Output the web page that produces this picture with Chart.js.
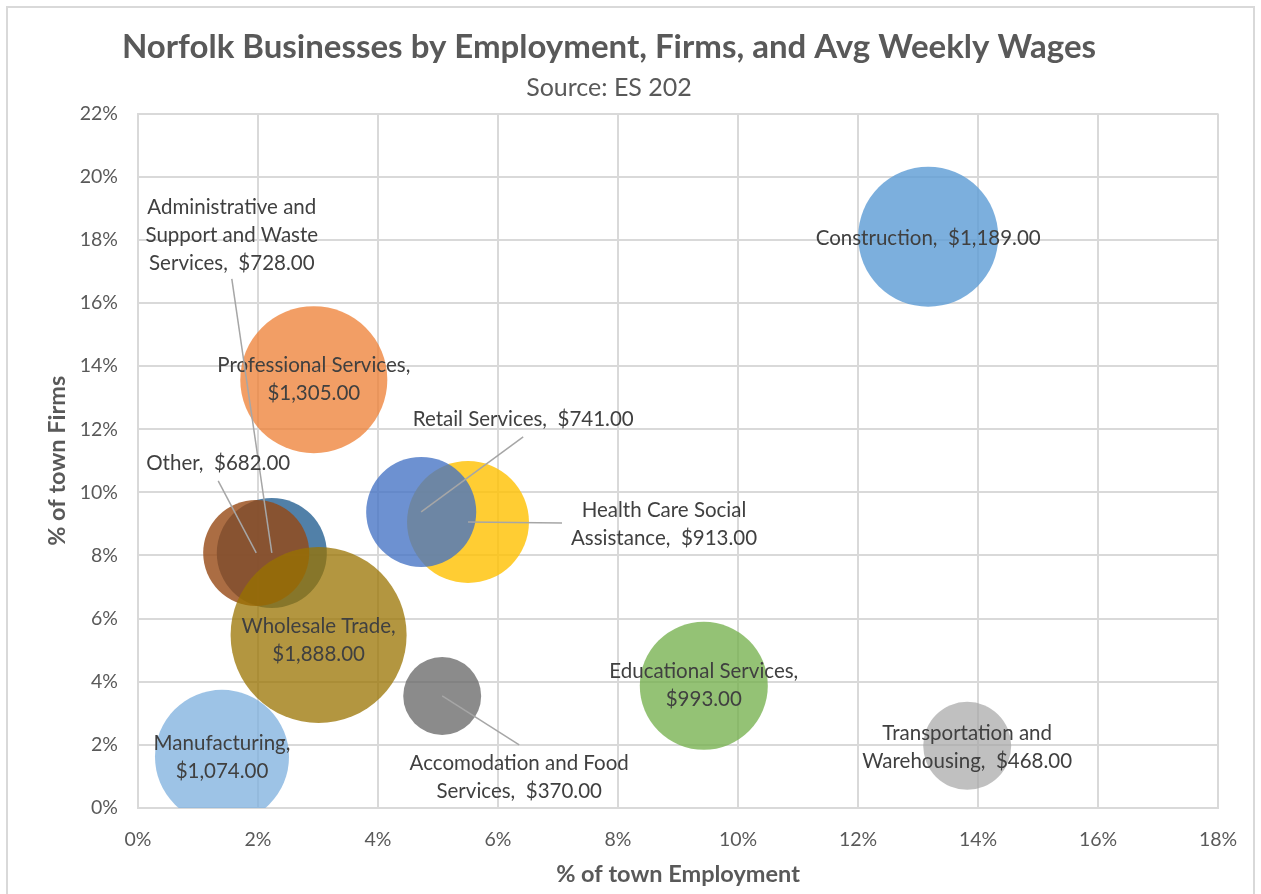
<!DOCTYPE html>
<html>
<head>
<meta charset="utf-8">
<script src="https://cdn.jsdelivr.net/npm/chart.js@4.4.0/dist/chart.umd.min.js"></script>
<style>
    html, body { margin: 0; padding: 0; background: #fff; }
    #chart { display: block; }
</style>
</head>
<body>
<canvas id="chart" width="1261" height="894"></canvas>
<script>
// Dados (% do emprego, % das empresas, salário semanal médio)
const categories = [
    'Construction',
    'Professional Services',
    'Health Care Social Assistance',
    'Retail Services',
    'Educational Services',
    'Transportation and Warehousing',
    'Manufacturing',
    'Administrative and Support and Waste Services',
    'Other',
    'Wholesale Trade',
    'Accomodation and Food Services'
];
const employmentPct = [13.17, 2.93, 5.50, 4.72, 9.43, 13.82, 1.40, 2.23, 1.97, 3.01, 5.07];
const firmsPct      = [18.10, 13.57, 9.06, 9.38, 3.87, 1.97, 1.62, 8.08, 8.08, 5.48, 3.55];
const weeklyWage    = [1189, 1305, 913, 741, 993, 468, 1074, 728, 682, 1888, 370];
const bubbleSize    = [6.33, 6.98, 4.80, 3.91, 5.29, 2.50, 5.80, 3.91, 3.63, 10.0, 1.96];

const xTicks = [0, 2, 4, 6, 8, 10, 12, 14, 16, 18];
const yTicks = [0, 2, 4, 6, 8, 10, 12, 14, 16, 18, 20, 22];

// Estilos
const colors = [
    'rgba(91,155,213,0.8)',
    'rgba(237,125,49,0.75)',
    'rgba(255,192,0,0.8)',
    'rgba(68,114,196,0.78)',
    'rgba(112,173,71,0.75)',
    'rgba(165,165,165,0.7)',
    'rgba(124,175,222,0.75)',
    'rgba(38,96,146,0.8)',
    'rgba(150,72,20,0.8)',
    'rgba(153,115,0,0.75)',
    'rgba(100,100,100,0.75)'
];
const maxBubbleRadius = 88;
const FONT = 'Lato, "Open Sans", sans-serif';
const textGray = '#595959';
const gridGray = '#D9D9D9';

// Posição dos rótulos (deslocamento em px em relação ao centro da bolha)
// lines = número de palavras por linha; leader = início da linha guia relativo ao rótulo
const labelLayout = [
    { dx: 0, dy: 2, lines: [2] },
    { dx: 0, dy: 0, lines: [2, 1] },
    { dx: 196, dy: 2, lines: [3, 2], leader: [-102, -1] },
    { dx: 102, dy: -93, lines: [3], leader: [0, 18] },
    { dx: 0, dy: 0, lines: [2, 1] },
    { dx: 0, dy: 2, lines: [2, 2] },
    { dx: 0, dy: 1, lines: [1, 1] },
    { dx: -40, dy: -318, lines: [2, 3, 2], leader: [0, 44] },
    { dx: -38, dy: -90, lines: [2], leader: [0, 18] },
    { dx: 0, dy: 5, lines: [2, 1] },
    { dx: 77, dy: 81, lines: [3, 2], leader: [0, -32] }
];

const moneyFmt = new Intl.NumberFormat('en-US', { minimumFractionDigits: 2, maximumFractionDigits: 2 });

function labelLines(i) {
    const words = (categories[i] + ',').split(' ');
    words.push('$' + moneyFmt.format(weeklyWage[i]));
    const out = [];
    let k = 0;
    labelLayout[i].lines.forEach(n => {
        let line = '';
        for (let j = 0; j < n; j++, k++) {
            if (j > 0) line += (k === words.length - 1) ? '  ' : ' ';
            line += words[k];
        }
        out.push(line);
    });
    return out;
}

const maxSize = Math.max(...bubbleSize);
const points = categories.map((c, i) => ({
    x: employmentPct[i],
    y: firmsPct[i],
    r: maxBubbleRadius * Math.sqrt(bubbleSize[i] / maxSize)
}));

// Moldura externa do gráfico
const frame = {
    id: 'frame',
    beforeDraw(chart) {
        const ctx = chart.ctx;
        ctx.save();
        ctx.strokeStyle = gridGray;
        ctx.lineWidth = 2;
        ctx.strokeRect(7, 7, 1247, 1000);
        ctx.restore();
    }
};

// Rótulos de dados com linhas guia
const dataLabels = {
    id: 'dataLabels',
    afterDatasetsDraw(chart) {
        const ctx = chart.ctx;
        const meta = chart.getDatasetMeta(0);
        ctx.save();
        ctx.font = '20.5px ' + FONT;
        ctx.fillStyle = '#404040';
        ctx.textAlign = 'center';
        ctx.textBaseline = 'middle';
        const lh = 28;
        meta.data.forEach((pt, i) => {
            const lay = labelLayout[i];
            const cx = pt.x + lay.dx;
            const cy = pt.y + lay.dy;
            if (lay.leader) {
                ctx.beginPath();
                ctx.strokeStyle = '#A6A6A6';
                ctx.lineWidth = 1.5;
                ctx.moveTo(cx + lay.leader[0], cy + lay.leader[1]);
                ctx.lineTo(pt.x, pt.y);
                ctx.stroke();
            }
            const lines = labelLines(i);
            lines.forEach((t, j) => {
                ctx.fillText(t, cx, cy + (j - (lines.length - 1) / 2) * lh);
            });
        });
        ctx.restore();
    }
};

new Chart(document.getElementById('chart'), {
    type: 'bubble',
    data: {
        datasets: [{
            data: points,
            backgroundColor: colors,
            borderWidth: 0,
            hoverBorderWidth: 0,
            clip: 0
        }]
    },
    options: {
        responsive: false,
        animation: false,
        devicePixelRatio: 1,
        layout: { autoPadding: false, padding: { left: 0, right: 43, top: 0, bottom: 0 } },
        plugins: {
            legend: { display: false },
            tooltip: { enabled: false },
            title: {
                display: true,
                text: 'Norfolk Businesses by Employment, Firms, and Avg Weekly Wages',
                color: textGray,
                font: { family: FONT, size: 33, weight: 'bold' },
                padding: { top: 28, bottom: 0 }
            },
            subtitle: {
                display: true,
                text: 'Source: ES 202',
                color: textGray,
                font: { family: FONT, size: 25 },
                padding: { top: 5, bottom: 11 }
            }
        },
        scales: {
            x: {
                type: 'linear',
                min: 0,
                max: 18,
                afterBuildTicks: s => { s.ticks = xTicks.map(v => ({ value: v })); },
                afterFit: s => { s.height = 86; },
                ticks: {
                    color: textGray,
                    font: { family: FONT, size: 19.5 },
                    padding: 20,
                    callback: v => v + '%'
                },
                grid: { color: gridGray, lineWidth: 2, drawTicks: false },
                border: { color: gridGray, width: 2 },
                title: {
                    display: true,
                    text: '% of town Employment',
                    color: textGray,
                    font: { family: FONT, size: 23.5, weight: 'bold' },
                    padding: { top: 0, bottom: 5 }
                }
            },
            y: {
                type: 'linear',
                min: 0,
                max: 22,
                afterBuildTicks: s => { s.ticks = yTicks.map(v => ({ value: v })); },
                afterFit: s => { s.width = 138; },
                ticks: {
                    color: textGray,
                    font: { family: FONT, size: 19.5 },
                    padding: 20,
                    callback: v => v + '%'
                },
                grid: { color: gridGray, lineWidth: 2, drawTicks: false },
                border: { color: gridGray, width: 2 },
                title: {
                    display: true,
                    text: '% of town Firms',
                    color: textGray,
                    font: { family: FONT, size: 23.5, weight: 'bold' },
                    padding: { top: 43, bottom: 0 }
                }
            }
        }
    },
    plugins: [frame, dataLabels]
});
</script>
</body>
</html>
